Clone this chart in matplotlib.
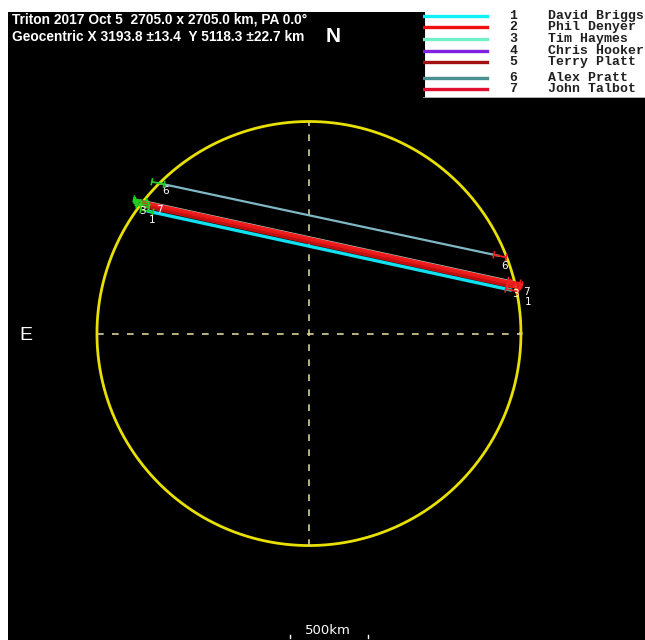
import numpy as np
import matplotlib
matplotlib.use("Agg")
import matplotlib.pyplot as plt

# Triton occultation, 2017 Oct 5 - observed chords in km on the sky plane
diameter = 2705.0
title1 = "Triton 2017 Oct 5  2705.0 x 2705.0 km, PA 0.0\u00b0"
title2 = "Geocentric X 3193.8 \u00b113.4  Y 5118.3 \u00b122.7 km"

obs_num = ["1", "2", "3", "4", "5", "6", "7"]
obs_name = ["David Briggs", "Phil Denyer", "Tim Haymes", "Chris Hooker",
            "Terry Platt", "Alex Pratt", "John Talbot"]
obs_color = ["#10f0f8", "#f01010", "#70f0c8", "#8020e0", "#a01010", "#4a9090", "#e01030"]

# chord ends (disappearance x,y / reappearance x,y), km; observer 4 has no chord
chord_obs = [6, 3, 7, 2, 5, 1]
d_x = [-963, -1078, -1072, -1065, -1059, -1034]
d_y = [960, 850, 840, 826, 812, 782]
r_x = [1219, 1308, 1321, 1314, 1302, 1295]
r_y = [494, 330, 318, 307, 297, 276]
chord_color = ["#7fb8c4", "#a0d8c8", "#f02020", "#e81818", "#c01010", "#10e0f0"]
chord_lw = [1.6, 1.4, 2.6, 2.6, 2.2, 2.4]
err_km = 40

W, H = 645, 640
fig = plt.figure(figsize=(W / 100, H / 100), dpi=100)
fig.patch.set_facecolor("white")

ax = fig.add_axes([8 / W, 0, 637 / W, 628 / H])
ax.set_facecolor("black")
ax.set_xlim(-1920, 2144)
ax.set_ylim(-1955, 2051)
ax.set_xticks([])
ax.set_yticks([])
for s in ax.spines.values():
    s.set_visible(False)

R = diameter / 2
t = np.linspace(0, 2 * np.pi, 400)
ax.plot(R * np.cos(t), R * np.sin(t), color="#e8e000", lw=2)
ax.plot([0, 0], [-R, R], color="#d8d090", lw=1.2, dashes=(4, 5))
ax.plot([-R, R], [0, 0], color="#d8d090", lw=1.2, dashes=(4, 5))

for i in range(len(chord_obs)):
    x1, y1, x2, y2 = d_x[i], d_y[i], r_x[i], r_y[i]
    ax.plot([x1, x2], [y1, y2], color=chord_color[i], lw=chord_lw[i], solid_capstyle="butt")
    # timing error bars at each end
    ux, uy = (x2 - x1), (y2 - y1)
    n = np.hypot(ux, uy)
    ux, uy = ux / n, uy / n
    for (ex, ey, c) in [(x1, y1, "#20d020"), (x2, y2, "#f02020")]:
        ax.plot([ex - err_km * ux, ex + err_km * ux], [ey - err_km * uy, ey + err_km * uy],
                color=c, lw=1.3)
        for sgn in (-1, 1):
            cx, cy = ex + sgn * err_km * ux, ey + sgn * err_km * uy
            ax.plot([cx - 18 * uy, cx + 18 * uy], [cy + 18 * ux, cy - 18 * ux], color=c, lw=1.2)

# observer numbers at chord ends
lab_txt = ["6", "6", "3", "7", "1", "3", "7", "1"]
lab_x = [-917, 1250, -1060, -955, -1000, 1320, 1390, 1400]
lab_y = [910, 430, 780, 790, 725, 250, 265, 200]
for s, x, y in zip(lab_txt, lab_x, lab_y):
    ax.text(x, y, s, color="white", fontsize=7.5, ha="center", va="center")

fig.text(12 / W, 1 - 20 / H, title1, color="white", fontsize=9.9, fontweight="bold",
         family="Liberation Sans", va="center")
fig.text(12 / W, 1 - 37 / H, title2, color="white", fontsize=9.9, fontweight="bold",
         family="Liberation Sans", va="center")
fig.text(333 / W, 1 - 37 / H, "N", color="white", fontsize=15, fontweight="bold",
         family="Liberation Sans", ha="center", va="center")
fig.text(26 / W, 1 - 336 / H, "E", color="white", fontsize=14,
         family="Liberation Sans", ha="center", va="center")

# 500 km scale bar
fig.text(328 / W, 1 - 631 / H, "500km", color="white", fontsize=9.5,
         family="DejaVu Sans", ha="center", va="center")
bar_x0 = (290 - 309) * 6.38
for bx in (bar_x0, bar_x0 + 500):
    ax.plot([bx, bx], [-1926, -1942], color="white", lw=1)

# observer key
lg = fig.add_axes([423 / W, 1 - 98 / H, 222 / W, 86 / H])
lg.set_xlim(0, 222)
lg.set_ylim(86, 0)
lg.set_xticks([])
lg.set_yticks([])
lg.set_facecolor("white")
for s in lg.spines.values():
    s.set_visible(False)
lg.plot([0.5, 0.5], [0, 86], color="black", lw=1.5)
lg.plot([0, 222], [85.5, 85.5], color="#a0a0a0", lw=1.2)
key_y = [4, 15, 27, 38.7, 50, 65.7, 77]
for i in range(len(obs_num)):
    lg.plot([1, 64], [key_y[i], key_y[i]], color=obs_color[i], lw=2.4)
    lg.text(90, key_y[i], obs_num[i], family="Liberation Mono", fontsize=9.5,
            fontweight="bold", ha="center", va="center", color="#202020")
    lg.text(125, key_y[i], obs_name[i], family="Liberation Mono", fontsize=9.5,
            fontweight="bold", ha="left", va="center", color="#202020")

fig.savefig("out.png", dpi=100, facecolor="white")
